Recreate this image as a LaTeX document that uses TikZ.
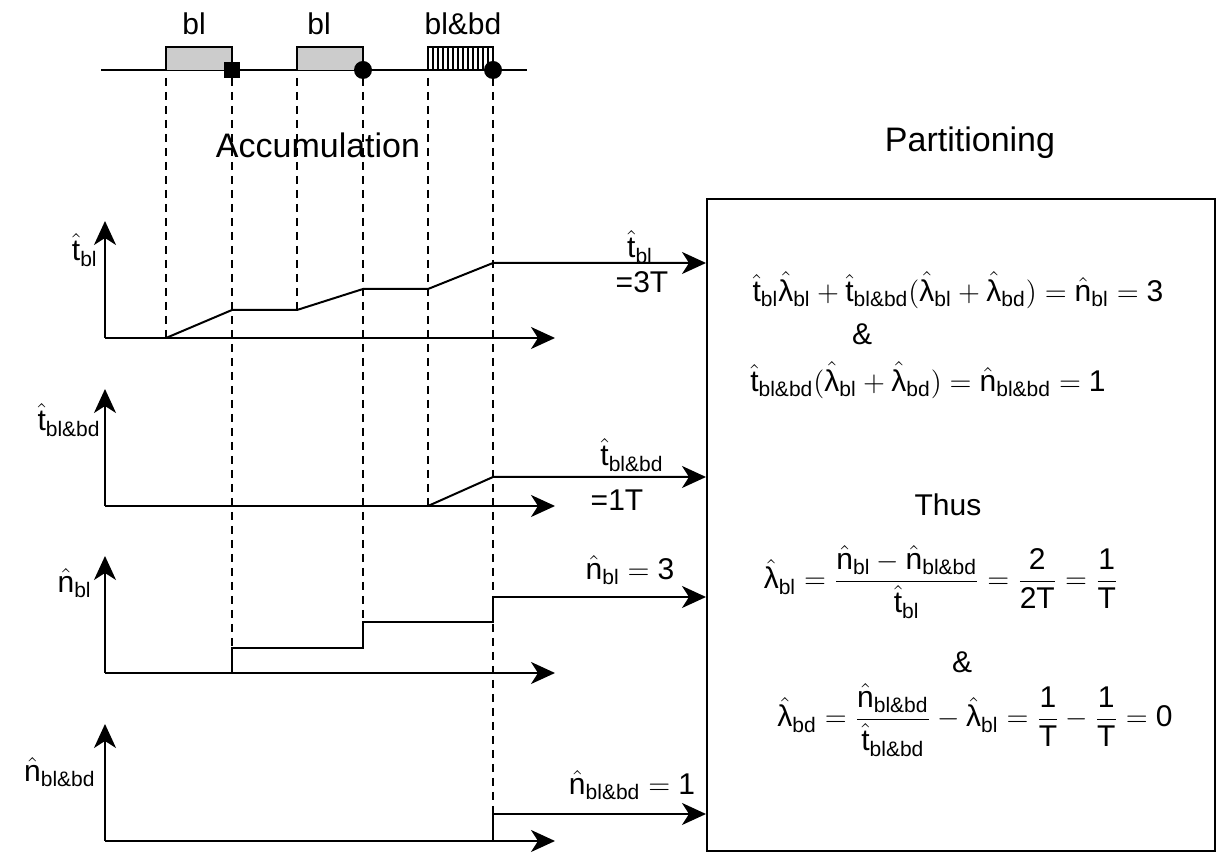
\documentclass[tikz,border=0pt]{standalone}
\usepackage{amsmath}
\usepackage{fontspec}
\setmainfont{Liberation Sans}
\usetikzlibrary{arrows.meta,positioning}

\tikzset{
  axis/.style={line width=1pt,-{Stealth[length=12pt,width=11pt,inset=3.5pt]}},
  curve/.style={line width=1pt},
  guide/.style={line width=1pt,dash pattern=on 4pt off 3pt},
  title/.style={font=\fontsize{17}{20}\selectfont,inner sep=0pt},
  lbl/.style={font=\fontsize{15}{18}\selectfont,inner sep=0pt},
  eqn/.style={font=\fontsize{15}{18}\selectfont,inner sep=0pt},
}
\newcommand{\hatv}[2]{\hat{\text{#1}}_{\text{#2}}}

\begin{document}
\begin{tikzpicture}[x=0.5pt,y=-0.5pt]
\useasboundingbox (0,0) rectangle (1217,854);

% top time line with the three events
\draw[curve] (101,70) -- (527,70);
\draw[curve,fill=gray!40] (166,70) |- (232,47) -- (232,70);
\draw[curve,fill=gray!40] (297,70) |- (363,47) -- (363,70);
\draw[curve] (428,70) |- (493,47) -- (493,70);
\foreach \x in {433,438,...,489}
  \draw[line width=0.7pt] (\x,47) -- (\x,70);
\fill (224,62) rectangle (240,78);
\fill (363,70) circle[radius=9];
\fill (493,70) circle[radius=9];
\node[lbl] (ev1) at (194,24) {bl};
\node[lbl] (ev2) at (319,24) {bl};
\node[lbl] (ev3) at (463,24) {bl\&bd};

% guide lines
\foreach \x/\y in {166/338,232/673,297/310,363/622,428/506,493/841}
  \draw[guide] (\x,78) -- (\x,\y);

\node[title] (acc) at (318,145) {Accumulation};
\node[title] (part) at (970,143) {Partitioning};

% partitioning box
\node[draw,line width=1pt,minimum width=254pt,minimum height=326pt,inner sep=0pt] (pbox) at (961,525) {};

% axes
\foreach \o in {338,506,673,841} {
  \draw[axis] (105,\o) -- (105,\o-117);
  \draw[axis] (105,\o) -- (555,\o);
}
\node[lbl,anchor=east] (ytb) at (98,250) {$\hatv{t}{bl}$};
\node[lbl,anchor=east] (ytbd) at (101,420) {$\hatv{t}{bl\&bd}$};
\node[lbl,anchor=east] (ynb) at (92,583) {$\hatv{n}{bl}$};
\node[lbl,anchor=east] (ynbd) at (96,772) {$\hatv{n}{bl\&bd}$};

% accumulated curves
\draw[axis] (166,338) -- (232,310) -- (297,310) -- (363,289) -- (428,289) -- (493,263) -- (pbox.west |- 0,263);
\draw[axis] (428,506) -- (493,477) -- (pbox.west |- 0,477);
\draw[axis] (232,673) -- (232,648) -- (363,648) -- (363,622) -- (493,622) -- (493,597) -- (pbox.west |- 0,597);
\draw[axis] (493,841) -- (493,814) -- (pbox.west |- 0,814);

\node[lbl] (rtb) at (640,247) {$\hatv{t}{bl}$};
\node[lbl] (rtb3) at (642,282) {=3T};
\node[lbl] (rtbd) at (632,455) {$\hatv{t}{bl\&bd}$};
\node[lbl] (rtbd1) at (617,500) {=1T};
\node[lbl] (rnb) at (630,570) {$\hatv{n}{bl} = \text{3}$};
\node[lbl] (rnbd) at (632,785) {$\hatv{n}{bl\&bd} = \text{1}$};

% equations
\node[eqn] (eq1) at (958,290) {$\hatv{t}{bl}\hatv{λ}{bl} + \hatv{t}{bl\&bd}(\hatv{λ}{bl} + \hatv{λ}{bd}) = \hatv{n}{bl} = \text{3}$};
\node[eqn] (and1) at (862,334) {\&};
\node[eqn] (eq2) at (928,380) {$\hatv{t}{bl\&bd}(\hatv{λ}{bl} + \hatv{λ}{bd}) = \hatv{n}{bl\&bd} = \text{1}$};
\node[eqn] (thus) at (948,505) {Thus};
\node[eqn] (eq3) at (941,582) {$\hatv{λ}{bl} = \dfrac{\hatv{n}{bl} - \hatv{n}{bl\&bd}}{\hatv{t}{bl}} = \dfrac{\text{2}}{\text{2T}} = \dfrac{\text{1}}{\text{T}}$};
\node[eqn] (and2) at (962,662) {\&};
\node[eqn] (eq4) at (975,720) {$\hatv{λ}{bd} = \dfrac{\hatv{n}{bl\&bd}}{\hatv{t}{bl\&bd}} - \hatv{λ}{bl} = \dfrac{\text{1}}{\text{T}} - \dfrac{\text{1}}{\text{T}} = \text{0}$};
\end{tikzpicture}
\end{document}
